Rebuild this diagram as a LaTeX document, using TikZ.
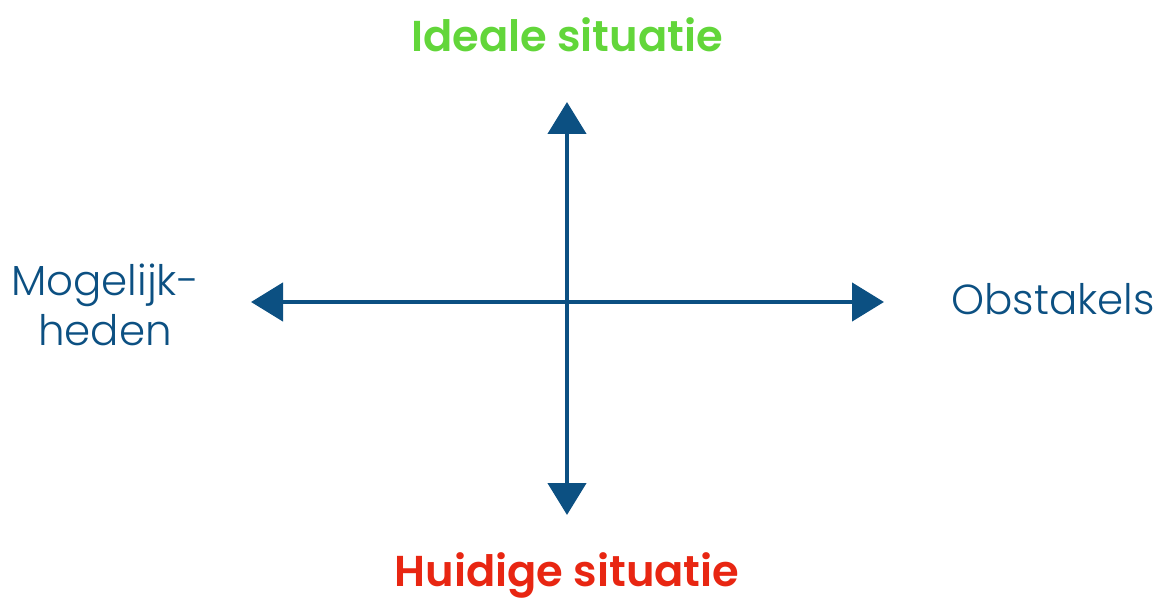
\documentclass[tikz,border=0pt]{standalone}
\usepackage{fontspec}
\setmainfont{Poppins}[UprightFont=* Light, BoldFont=* SemiBold]
\usetikzlibrary{arrows.meta}
\definecolor{axisblue}{RGB}{12,80,130}
\definecolor{idealgreen}{RGB}{98,214,58}
\definecolor{nowred}{RGB}{232,38,18}
\tikzset{
  axis/.style={draw=axisblue, line width=2.3pt, -{Triangle[width=19pt,length=16pt]}},
  title/.style={font=\bfseries\fontsize{21.6}{26}\selectfont, inner sep=0pt},
  side/.style={font=\fontsize{21}{25}\selectfont, text=axisblue, inner sep=0pt, align=center}
}
\begin{document}
\begin{tikzpicture}[x=0.5pt,y=-0.5pt]
\useasboundingbox (0,0) rectangle (1164,599);
\coordinate (c) at (567,302);
\coordinate (top) at (567,102);
\coordinate (bot) at (567,515);
\coordinate (lft) at (251,302);
\coordinate (rgt) at (884,302);
\draw[axis] (c) -- (top);
\draw[axis] (c) -- (bot);
\draw[axis] (c) -- (lft);
\draw[axis] (c) -- (rgt);
\node[title, text=idealgreen] (ideal) at (567,35) {Ideale situatie};
\node[title, text=nowred] (huidig) at (567,575) {Huidige situatie};
\node[side] (mog) at (105,305) {Mogelijk-\\heden};
\node[side] (obs) at (1053,299) {Obstakels};
\end{tikzpicture}
\end{document}
